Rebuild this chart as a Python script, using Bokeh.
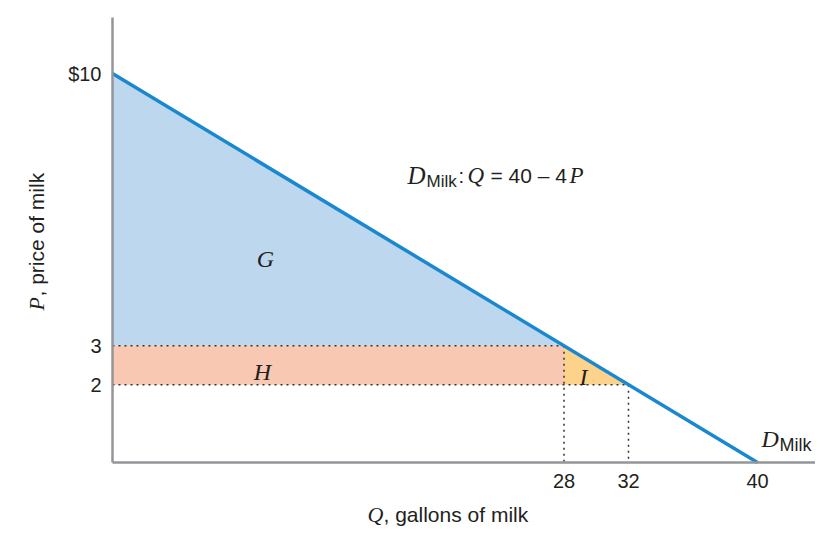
from bokeh.plotting import figure
from bokeh.models import Range1d, FixedTicker, Label
from bokeh.embed import file_html
from bokeh.resources import INLINE

# ---- data ----
demand_q = [0, 40]          # Q = 40 - 4P
demand_p = [10, 0]
price_high = 3
price_low = 2
qty_high_price = 28
qty_low_price = 32
choke_price = 10
x_ticks = [28, 32, 40]
y_ticks = [2, 3, 10]
y_tick_labels = {10: "$10", 3: "3", 2: "2"}

# ---- layout (canvas pixels) ----
W, H = 815, 529
X0, Y0 = 112, 462          # canvas position of the origin
SX, SY = 16.125, 38.9      # pixels per unit
X_START, X_END = -X0 / SX, (W - X0) / SX
Y_START, Y_END = -(H - Y0) / SY, Y0 / SY
Y_AXIS_TOP = (Y0 - 17) / SY
BL = 8                      # baseline correction for alphabetic labels

def dx(cx):
    return (cx - X0) / SX

def dy(cy):
    return (Y0 - cy) / SY

p = figure(width=W, height=H, output_backend="svg", toolbar_location=None,
           x_range=Range1d(X_START, X_END), y_range=Range1d(Y_START, Y_END),
           min_border_left=0, min_border_right=0,
           min_border_top=0, min_border_bottom=0)
p.title.visible = False
p.outline_line_color = None
p.grid.visible = False
p.background_fill_color = "white"
p.border_fill_color = "white"

BLUE_FILL = "#bdd7ee"
SALMON = "#f9c8b3"
ORANGE = "#fdd38b"
AXIS = "#939598"
LINE = "#1a88cf"
DOT = "#333333"

# G: area above price_high under demand
p.patch([0, 0, qty_high_price], [choke_price, price_high, price_high],
        fill_color=BLUE_FILL, line_color=None)
# H: rectangle between the two prices
p.patch([0, qty_high_price, qty_high_price, 0],
        [price_low, price_low, price_high, price_high],
        fill_color=SALMON, line_color=None)
# I: triangle
p.patch([qty_high_price, qty_high_price, qty_low_price],
        [price_high, price_low, price_low],
        fill_color=ORANGE, line_color=None)

# dotted guides
dash = "2 4"
p.line([0, qty_high_price], [price_high, price_high], line_color=DOT, line_width=1.5, line_dash=dash)
p.line([0, qty_low_price], [price_low, price_low], line_color=DOT, line_width=1.5, line_dash=dash)
p.line([qty_high_price, qty_high_price], [price_high, 0], line_color=DOT, line_width=1.5, line_dash=dash)
p.line([qty_low_price, qty_low_price], [price_low, 0], line_color=DOT, line_width=1.5, line_dash=dash)

# demand line
p.line(demand_q, demand_p, line_color=LINE, line_width=3.5)

# axes, pinned at the origin
for ax in (p.xaxis[0], p.yaxis[0]):
    ax.fixed_location = 0
    ax.axis_line_color = AXIS
    ax.axis_line_width = 2.5
    ax.major_tick_line_color = None
    ax.minor_tick_line_color = None
    ax.major_label_text_font = "Liberation Sans"
    ax.major_label_text_font_size = "20px"
    ax.major_label_text_color = "#231f20"
p.xaxis[0].ticker = FixedTicker(ticks=x_ticks)
p.yaxis[0].ticker = FixedTicker(ticks=y_ticks)
p.yaxis[0].major_label_overrides = y_tick_labels
p.xaxis[0].bounds = (0, X_END)
p.yaxis[0].bounds = (0, Y_AXIS_TOP)
p.xaxis[0].major_label_standoff = 5
p.yaxis[0].major_label_standoff = 5

SERIF = "Liberation Serif"
SANS = "Liberation Sans"
TXT = "#231f20"

def lab(text, cx, cy, font, size, style="normal", align="left", baseline="alphabetic", angle=0):
    if baseline == "alphabetic":
        if angle:
            cx -= BL
        else:
            cy -= BL
    p.add_layout(Label(x=dx(cx), y=dy(cy), text=text, text_font=font,
                       text_font_size=size, text_font_style=style,
                       text_align=align, text_baseline=baseline,
                       text_color=TXT, angle=angle))

# region letters
lab("G", 265, 258, SERIF, "24px", "italic", "center", "middle")
lab("H", 262, 371, SERIF, "24px", "italic", "center", "middle")
lab("I", 583, 376, SERIF, "24px", "italic", "center", "middle")

# equation
lab("D", 407, 183, SERIF, "25px", "italic")
lab("Milk", 426, 189, SANS, "17px")
lab(":", 458, 183, SANS, "20px")
lab("Q", 467, 183, SERIF, "23px", "italic")
lab("= 40 \u2013 4", 490, 183, SANS, "21px")
lab("P", 569, 183, SERIF, "23px", "italic")

# curve label
lab("D", 761, 446, SERIF, "24px", "italic")
lab("Milk", 779, 452, SANS, "18px")

# axis titles
lab("Q", 367, 522, SERIF, "22px", "italic")
lab(", gallons of milk", 383, 522, SANS, "21px")
lab("P", 44, 310, SERIF, "22px", "italic", angle=1.5707963)
lab(", price of milk", 44, 296, SANS, "21px", angle=1.5707963)

open("out.html", "w").write(file_html(p, INLINE))
